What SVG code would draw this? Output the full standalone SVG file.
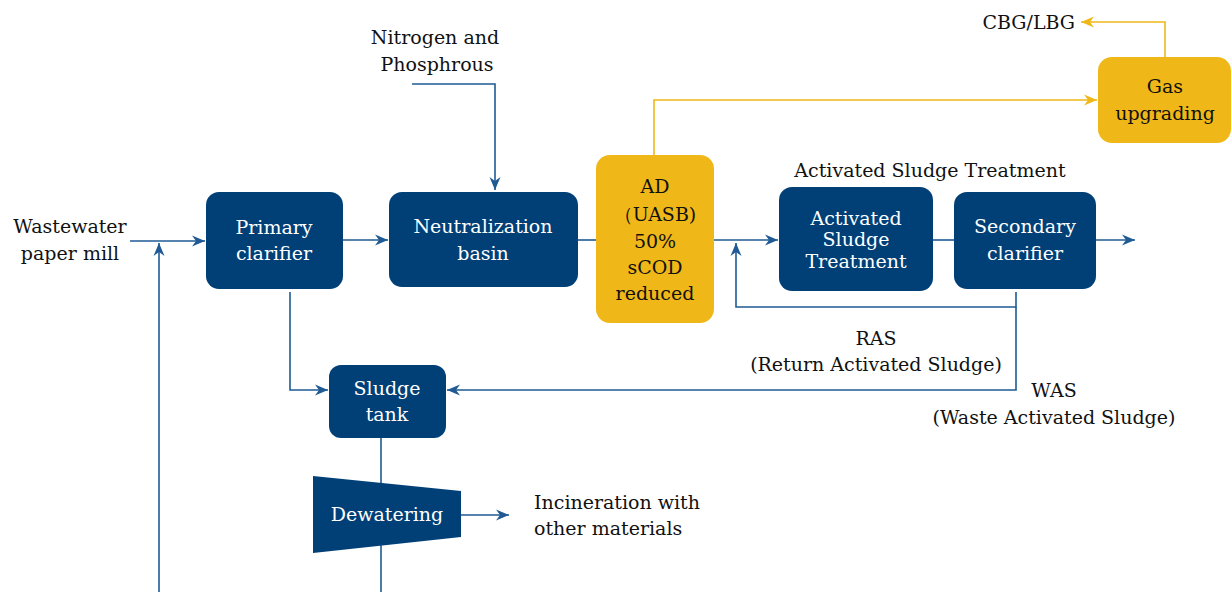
<svg xmlns="http://www.w3.org/2000/svg" width="1231" height="592" viewBox="0 0 1231 592">
<style>
.box{fill:#004077}
.ybox{fill:#EFB818}
.wt{fill:#ffffff;font-family:"DejaVu Serif","Liberation Serif",serif;font-size:19px;text-anchor:middle}
.bt{fill:#111111;font-family:"DejaVu Serif","Liberation Serif",serif;font-size:19px;text-anchor:middle}
.ln{fill:none;stroke:#1F5A94;stroke-width:1.6}
.yl{fill:none;stroke:#EFB818;stroke-width:1.6}
</style>
<defs>
<marker id="ab" markerUnits="userSpaceOnUse" markerWidth="14" markerHeight="12" refX="13" refY="6" orient="auto">
<path d="M0,0.5 L13,6 L0,11.5 L4,6 Z" fill="#1F5A94"/>
</marker>
<marker id="ay" markerUnits="userSpaceOnUse" markerWidth="14" markerHeight="12" refX="13" refY="6" orient="auto">
<path d="M0,0.5 L13,6 L0,11.5 L4,6 Z" fill="#EFB818"/>
</marker>
</defs>
<g id="connectors">
<path class="ln" d="M130,241 H205" marker-end="url(#ab)"/>
<path class="ln" d="M159,592 V243" marker-end="url(#ab)"/>
<path class="ln" d="M343,240 H388" marker-end="url(#ab)"/>
<path class="ln" d="M412,84 H495 V190" marker-end="url(#ab)"/>
<path class="ln" d="M578,240 H596"/>
<path class="yl" d="M654,155 V100 H1097" marker-end="url(#ay)"/>
<path class="yl" d="M1165,57 V22 H1081" marker-end="url(#ay)"/>
<path class="ln" d="M714,240 H778" marker-end="url(#ab)"/>
<path class="ln" d="M933,240 H955"/>
<path class="ln" d="M1096,240 H1135" marker-end="url(#ab)"/>
<path class="ln" d="M1016,292 V307 H736 V243" marker-end="url(#ab)"/>
<path class="ln" d="M1016,307 V390 H447" marker-end="url(#ab)"/>
<path class="ln" d="M290,292 V390 H328" marker-end="url(#ab)"/>
<path class="ln" d="M381,438 V485"/>
<path class="ln" d="M381,545 V592"/>
<path class="ln" d="M461,515 H509" marker-end="url(#ab)"/>
</g>
<g id="wastewater">
<text class="bt" x="70" y="233">Wastewater</text>
<text class="bt" x="70" y="260">paper mill</text>
</g>
<g id="nitrogen">
<text class="bt" x="435" y="44">Nitrogen and</text>
<text class="bt" x="437" y="71">Phosphrous</text>
</g>
<g id="primary-clarifier">
<rect class="box" x="206" y="192" width="137" height="97" rx="13"/>
<text class="wt" x="274" y="234">Primary</text>
<text class="wt" x="274" y="260">clarifier</text>
</g>
<g id="neutralization-basin">
<rect class="box" x="389" y="192" width="189" height="95" rx="13"/>
<text class="wt" x="483" y="233">Neutralization</text>
<text class="wt" x="483" y="260">basin</text>
</g>
<g id="ad">
<rect class="ybox" x="596" y="155" width="118" height="168" rx="14"/>
<text class="bt" x="655" y="193">AD</text>
<text class="bt" x="655" y="221" font-family="'DejaVu Serif','Noto Sans CJK SC',serif">（UASB)</text>
<text class="bt" x="655" y="248">50%</text>
<text class="bt" x="655" y="274">sCOD</text>
<text class="bt" x="655" y="300">reduced</text>
</g>
<g id="gas-upgrading">
<rect class="ybox" x="1098" y="57" width="133" height="86" rx="14"/>
<text class="bt" x="1165" y="93">Gas</text>
<text class="bt" x="1165" y="120">upgrading</text>
</g>
<g id="cbg">
<text class="bt" x="1075" y="29" style="text-anchor:end">CBG/LBG</text>
</g>
<g id="ast-label">
<text class="bt" x="930" y="177">Activated Sludge Treatment</text>
</g>
<g id="activated-sludge">
<rect class="box" x="779" y="187" width="154" height="104" rx="13"/>
<text class="wt" x="856" y="225">Activated</text>
<text class="wt" x="856" y="246">Sludge</text>
<text class="wt" x="856" y="268">Treatment</text>
</g>
<g id="secondary-clarifier">
<rect class="box" x="954" y="192" width="142" height="97" rx="13"/>
<text class="wt" x="1025" y="233">Secondary</text>
<text class="wt" x="1025" y="260">clarifier</text>
</g>
<g id="ras">
<text class="bt" x="876" y="345">RAS</text>
<text class="bt" x="876" y="371">(Return Activated Sludge)</text>
</g>
<g id="was">
<text class="bt" x="1054" y="397">WAS</text>
<text class="bt" x="1054" y="424">(Waste Activated Sludge)</text>
</g>
<g id="sludge-tank">
<rect class="box" x="329" y="365" width="117" height="73" rx="12"/>
<text class="wt" x="387" y="395">Sludge</text>
<text class="wt" x="387" y="421">tank</text>
</g>
<g id="dewatering">
<polygon class="box" points="313,476 461,491 461,537 313,553"/>
<text class="wt" x="387" y="521">Dewatering</text>
</g>
<g id="incineration">
<text class="bt" x="534" y="509" style="text-anchor:start">Incineration with</text>
<text class="bt" x="534" y="535" style="text-anchor:start">other materials</text>
</g>
</svg>
